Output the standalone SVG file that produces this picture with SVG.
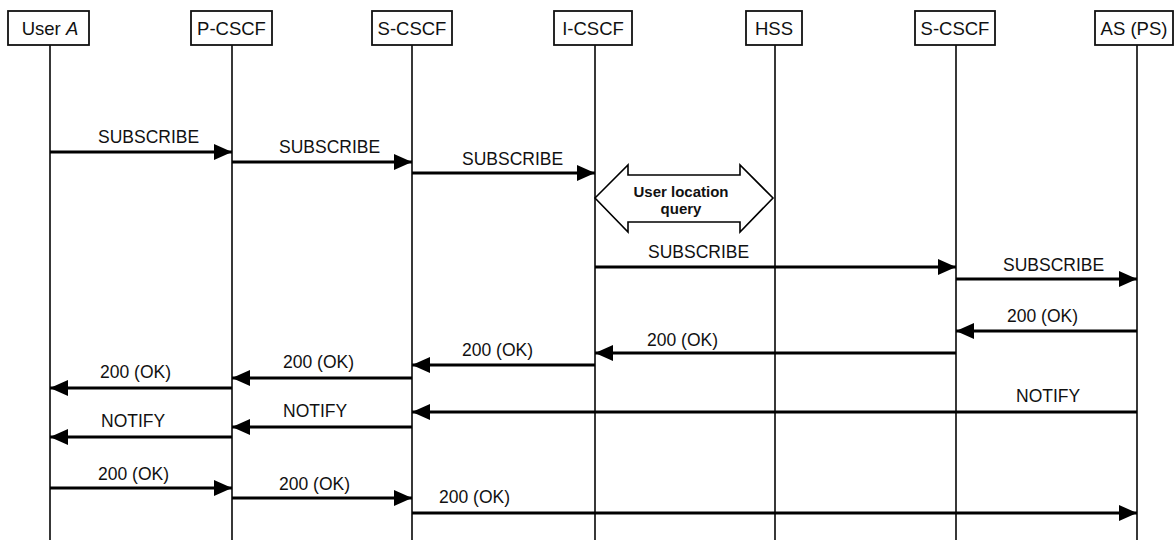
<svg xmlns="http://www.w3.org/2000/svg" width="1175" height="540" viewBox="0 0 1175 540">
<style>
.box{fill:#fff;stroke:#111;stroke-width:1.8}
.hdr{font-family:"Liberation Sans",Arial,sans-serif;font-size:18.5px;fill:#111;text-anchor:middle}
.life{stroke:#222;stroke-width:1.8}
.msg{stroke:#000;stroke-width:3;fill:none}
.lbl{font-family:"Liberation Sans",Arial,sans-serif;font-size:17.5px;fill:#111}
.q{font-family:"Liberation Sans",Arial,sans-serif;font-size:15px;font-weight:bold;fill:#111;text-anchor:middle}
</style>
<defs>
<marker id="ah" markerUnits="userSpaceOnUse" markerWidth="18" markerHeight="16" refX="18" refY="8" orient="auto">
<path d="M0,0 L18,8 L0,16 z" fill="#000"/>
</marker>
</defs>
<rect width="1175" height="540" fill="#fff"/>
<g id="lifelines">
<line class="life" x1="50" y1="45" x2="50" y2="540"/>
<line class="life" x1="232" y1="45" x2="232" y2="540"/>
<line class="life" x1="412" y1="45" x2="412" y2="540"/>
<line class="life" x1="595" y1="45" x2="595" y2="540"/>
<line class="life" x1="775" y1="45" x2="775" y2="540"/>
<line class="life" x1="956" y1="45" x2="956" y2="540"/>
<line class="life" x1="1137" y1="45" x2="1137" y2="540"/>
</g>
<g id="userA"><rect class="box" x="8" y="11" width="81" height="34"/><text class="hdr" x="50" y="35">User <tspan font-style="italic">A</tspan></text></g>
<g id="pcscf"><rect class="box" x="191" y="11" width="81" height="34"/><text class="hdr" x="231.5" y="35">P-CSCF</text></g>
<g id="scscf1"><rect class="box" x="372" y="11" width="80" height="34"/><text class="hdr" x="412" y="35">S-CSCF</text></g>
<g id="icscf"><rect class="box" x="554" y="11" width="78" height="34"/><text class="hdr" x="593" y="35">I-CSCF</text></g>
<g id="hss"><rect class="box" x="746" y="11" width="56" height="34"/><text class="hdr" x="774" y="35">HSS</text></g>
<g id="scscf2"><rect class="box" x="915" y="11" width="80" height="34"/><text class="hdr" x="955" y="35">S-CSCF</text></g>
<g id="as"><rect class="box" x="1095" y="11" width="78" height="34"/><text class="hdr" x="1134" y="35">AS (PS)</text></g>
<g id="query">
<polygon points="595,198 628,165 628,175 740,175 740,165 773,198 740,232 740,222 628,222 628,232" fill="#fff" stroke="#000" stroke-width="1.6"/>
<text class="q" x="681" y="197">User location</text>
<text class="q" x="681" y="214">query</text>
</g>
<g id="connectors">
<line class="msg" x1="50" y1="152" x2="232" y2="152" marker-end="url(#ah)"/>
<text class="lbl" x="98" y="143">SUBSCRIBE</text>
<line class="msg" x1="232" y1="162" x2="412" y2="162" marker-end="url(#ah)"/>
<text class="lbl" x="279" y="153">SUBSCRIBE</text>
<line class="msg" x1="412" y1="173" x2="595" y2="173" marker-end="url(#ah)"/>
<text class="lbl" x="462" y="165">SUBSCRIBE</text>
<line class="msg" x1="595" y1="267" x2="956" y2="267" marker-end="url(#ah)"/>
<text class="lbl" x="648" y="258">SUBSCRIBE</text>
<line class="msg" x1="956" y1="279" x2="1137" y2="279" marker-end="url(#ah)"/>
<text class="lbl" x="1003" y="271">SUBSCRIBE</text>
<line class="msg" x1="1137" y1="331" x2="956" y2="331" marker-end="url(#ah)"/>
<text class="lbl" x="1007" y="322">200 (OK)</text>
<line class="msg" x1="956" y1="353" x2="595" y2="353" marker-end="url(#ah)"/>
<text class="lbl" x="647" y="346">200 (OK)</text>
<line class="msg" x1="595" y1="365" x2="412" y2="365" marker-end="url(#ah)"/>
<text class="lbl" x="462" y="356">200 (OK)</text>
<line class="msg" x1="412" y1="378" x2="232" y2="378" marker-end="url(#ah)"/>
<text class="lbl" x="283" y="368">200 (OK)</text>
<line class="msg" x1="232" y1="388" x2="50" y2="388" marker-end="url(#ah)"/>
<text class="lbl" x="100" y="378">200 (OK)</text>
<line class="msg" x1="1137" y1="412" x2="412" y2="412" marker-end="url(#ah)"/>
<text class="lbl" x="1016" y="402">NOTIFY</text>
<line class="msg" x1="412" y1="427" x2="232" y2="427" marker-end="url(#ah)"/>
<text class="lbl" x="283" y="417">NOTIFY</text>
<line class="msg" x1="232" y1="437" x2="50" y2="437" marker-end="url(#ah)"/>
<text class="lbl" x="101" y="427">NOTIFY</text>
<line class="msg" x1="50" y1="488" x2="232" y2="488" marker-end="url(#ah)"/>
<text class="lbl" x="98" y="480">200 (OK)</text>
<line class="msg" x1="232" y1="498" x2="412" y2="498" marker-end="url(#ah)"/>
<text class="lbl" x="279" y="490">200 (OK)</text>
<line class="msg" x1="412" y1="513" x2="1137" y2="513" marker-end="url(#ah)"/>
<text class="lbl" x="439" y="503">200 (OK)</text>
</g>
</svg>
